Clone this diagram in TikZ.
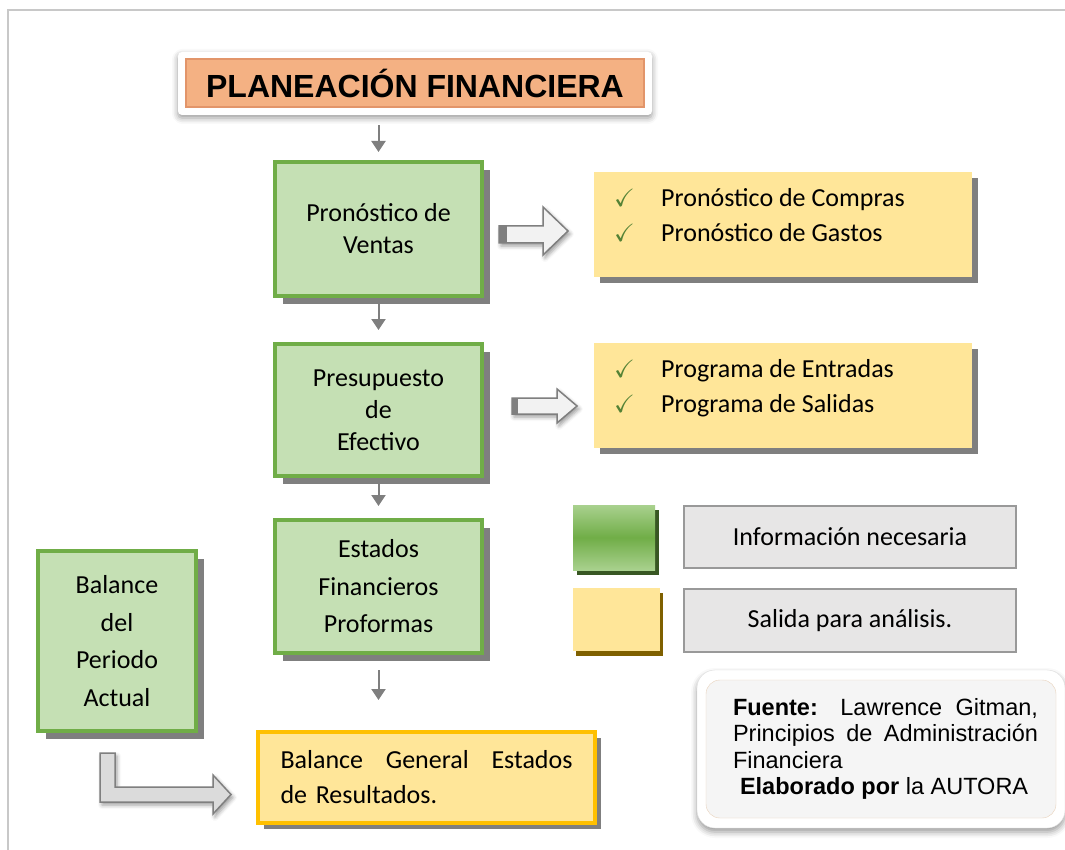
\documentclass[tikz,border=0pt]{standalone}
\usepackage{fontspec}
\setmainfont{Carlito}
\newfontfamily\arial{Liberation Sans}
\usepackage{amssymb}
\usetikzlibrary{arrows.meta,shadows,shadows.blur}

\definecolor{verdeborde}{HTML}{70AD47}
\definecolor{verdefondo}{HTML}{C5E0B4}
\definecolor{verdeclaro}{HTML}{A9D18E}
\definecolor{verdeoscuro}{HTML}{385723}
\definecolor{amarillo}{HTML}{FFE699}
\definecolor{dorado}{HTML}{FFC000}
\definecolor{ocre}{HTML}{7F6000}
\definecolor{naranja}{HTML}{F4B183}
\definecolor{naranjaosc}{HTML}{E2956A}
\definecolor{gris}{HTML}{7F7F7F}
\definecolor{grisclaro}{HTML}{E7E6E6}
\definecolor{marco}{HTML}{C8C8C8}
\definecolor{check}{HTML}{548235}

\newcommand{\chk}{\makebox[47pt][l]{\textcolor{check}{\fontsize{25}{25}\selectfont$\checkmark$}}}

\begin{document}
\begin{tikzpicture}[x=1pt, y=-1pt, >={Triangle[width=14pt,length=11pt]},
	info/.style={draw=verdeborde, line width=4pt, fill=verdefondo, align=center, inner sep=0pt,
		font=\fontsize{26}{32}\selectfont,
		drop shadow={shadow xshift=8pt, shadow yshift=-8pt, fill=gris, opacity=1}},
	salida/.style={fill=amarillo, inner sep=0pt,
		drop shadow={shadow xshift=6pt, shadow yshift=-6pt, fill=gris, opacity=1}},
	lista/.style={align=left, inner sep=0pt, font=\fontsize{26}{35}\selectfont},
	flecha/.style={->, draw=gris, line width=2pt},
	hueca/.style={draw=gris, line width=1.5pt, fill=gray!10, line join=miter,
		blur shadow={shadow xshift=2pt, shadow yshift=-3pt, shadow blur radius=4pt}},
	leyenda/.style={draw=gray!80, line width=2pt, fill=grisclaro, minimum width=332pt,
		font=\fontsize{26}{32}\selectfont}]
	\useasboundingbox (0,0) rectangle (1065,850);
	% Marco de la hoja
	\draw[marco, line width=2pt] (1065,10) -- (8,10) -- (8,850);
	
	% Titulo
	\node[fill=white, rounded corners=4pt, minimum width=474pt, minimum height=63pt,
		blur shadow={shadow xshift=0pt, shadow yshift=-3pt, shadow blur radius=6pt}] (marcotitulo) at (415,83.5) {};
	\node[fill=naranja, draw=naranjaosc, line width=1.5pt, minimum width=458pt, minimum height=48pt,
		font=\arial\bfseries\fontsize{32}{36}\selectfont] (titulo) at (415,83) {PLANEACIÓN FINANCIERA};
	
	% Cajas verdes (informacion necesaria)
	\node[info, minimum width=207pt, minimum height=134pt] (ventas) at (378.5,229) {Pronóstico de\\Ventas};
	\node[info, minimum width=207pt, minimum height=132pt] (efectivo) at (378.5,410) {Presupuesto\\de\\Efectivo};
	\node[info, minimum width=207pt, minimum height=133pt, font=\fontsize{26}{37.5}\selectfont] (estados) at (378.5,586.5) {Estados\\Financieros\\Proformas};
	\node[info, minimum width=158pt, minimum height=180pt, font=\fontsize{26}{37.5}\selectfont] (periodo) at (117,641) {Balance\\del\\Periodo\\Actual};
	
	% Cajas amarillas (salidas)
	\node[salida, minimum width=378pt, minimum height=105pt] (compras) at (783,224.5) {};
	\node[lista, anchor=west] (lcompras) at (614,215.5) {\chk Pronóstico de Compras\\\chk Pronóstico de Gastos};
	\node[salida, minimum width=378pt, minimum height=105pt] (entradas) at (783,395.5) {};
	\node[lista, anchor=west] (lentradas) at (614,388.5) {\chk Programa de Entradas\\\chk Programa de Salidas};
	\node[salida, draw=dorado, line width=4pt, minimum width=337pt, minimum height=91pt, text width=292pt,
		align=left, font=\fontsize{26}{35}\selectfont] (resultados) at (426.5,777.5) {Balance\hfill General\hfill Estados\\de Resultados.};
	
	% Flechas pequenas
	\draw[flecha, shorten <=10pt, shorten >=8pt] (ventas.north |- marcotitulo.south) -- (ventas.north);
	\foreach \a/\b in {ventas/efectivo, efectivo/estados} {
		\draw[flecha, shorten >=12pt] (\a.south) -- (\b.north);
	}
	\draw[flecha, shorten <=15pt, shorten >=30pt] (estados.south) -- (estados.south |- resultados.north);
	
	% Flechas huecas
	\draw[hueca] (499,226) -- (543,226) -- (543,207) -- (568,231) -- (543,255) -- (543,243) -- (499,243) -- cycle;
	\fill[gris] (499,226) rectangle (507,243);
	\draw[hueca] (512,398) -- (557,398) -- (557,389) -- (577,406) -- (557,423) -- (557,414) -- (512,414) -- cycle;
	\fill[gris] (512,398) rectangle (518,414);
	\draw[hueca, fill=gray!28] (100,753) -- (115,753) -- (115,787) -- (213,787) -- (213,775) -- (231,794.5)
		-- (213,814) -- (213,802) -- (100,802) -- cycle;
	
	% Leyenda
	\node[top color=verdeclaro, bottom color=verdeclaro, middle color=verdeborde, minimum width=82pt, minimum height=65pt,
		drop shadow={shadow xshift=4pt, shadow yshift=-5pt, fill=verdeoscuro, opacity=1}] (cverde) at (614,537.5) {};
	\node[fill=amarillo, minimum width=87pt, minimum height=63pt,
		drop shadow={shadow xshift=3pt, shadow yshift=-5pt, fill=ocre, opacity=1}] (camarillo) at (616.5,619.5) {};
	\node[leyenda, minimum height=62pt] (linfo) at (850,537) {Información necesaria};
	\node[leyenda, minimum height=63pt] (lsalida) at (850,620.5) {Salida para análisis.};
	
	% Fuente
	\node[fill=white, draw=gray!25, rounded corners=18pt, minimum width=368pt, minimum height=158pt,
		blur shadow={shadow xshift=0pt, shadow yshift=-4pt, shadow blur radius=6pt}] (marcofuente) at (881,749) {};
	\node[fill=gray!8, draw=brown!35, rounded corners=14pt, minimum width=350pt, minimum height=138pt] (cajafuente) at (881,749) {};
	\node[text width=305pt, align=justify, inner sep=0pt, font=\arial\fontsize{23.5}{26.5}\selectfont] (fuente) at (885.5,749)
		{\textbf{Fuente:} Lawrence Gitman, Principios de Administración Financiera\\
		\hspace*{7pt}\textbf{Elaborado por} la AUTORA};
\end{tikzpicture}
\end{document}
